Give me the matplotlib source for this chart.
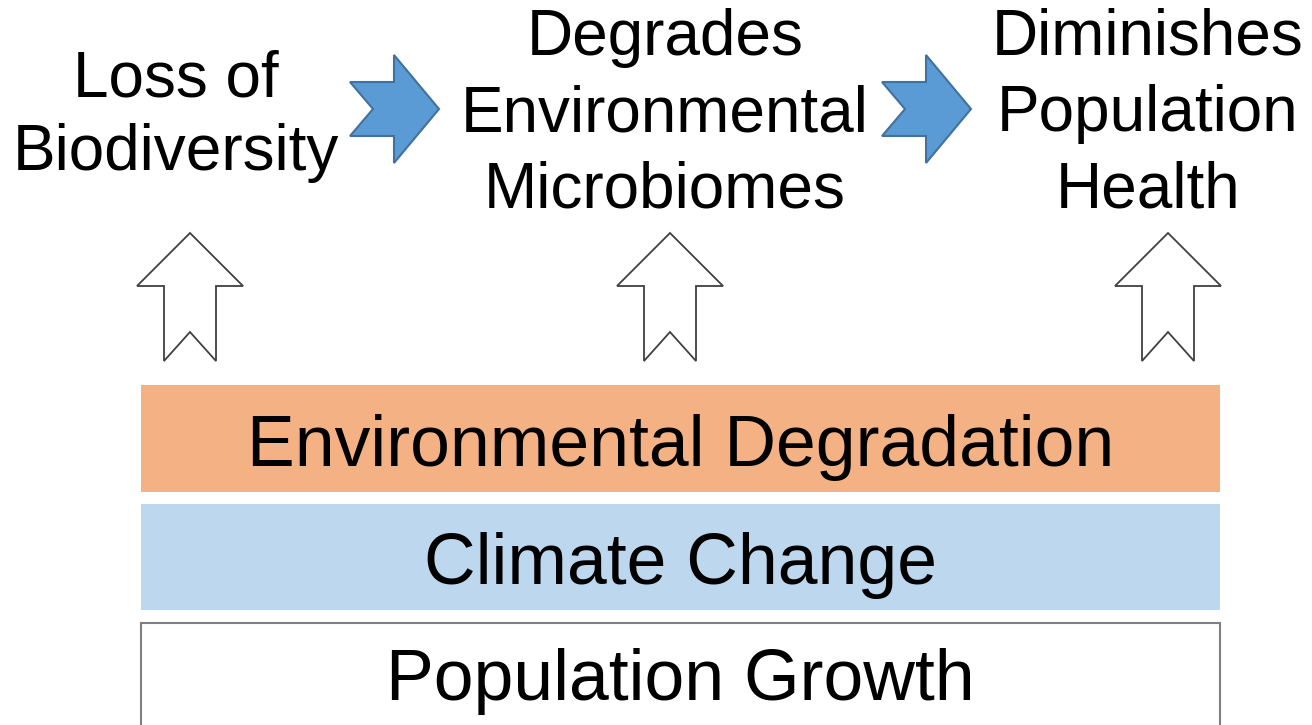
"""Diagram: population growth / climate change / environmental degradation
driving biodiversity loss -> microbiome degradation -> population health."""
import matplotlib

matplotlib.use("Agg")
import matplotlib.pyplot as plt
from matplotlib.patches import Polygon, Rectangle

plt.rcParams["font.family"] = ["Liberation Sans", "DejaVu Sans"]

W, H = 1312, 725

# chain of effects across the top (each line drawn on its own baseline)
STAGE_LINES = [
    ["Loss of", "Biodiversity"],
    ["Degrades", "Environmental", "Microbiomes"],
    ["Diminishes", "Population", "Health"],
]
STAGE_X = [176, 665, 1148]
STAGE_BASELINES = [[96, 170], [55, 131, 207], [54, 131, 207]]
STAGE_FONTSIZE = 46

# stacked driver bands at the bottom
BAND_LABELS = ["Environmental Degradation", "Climate Change", "Population Growth"]
BAND_FACE = ["#F4B183", "#BDD7EE", "#FFFFFF"]
BAND_EDGE = ["none", "none", "#7F7F7F"]
BAND_TOP = [385, 504, 623]
BAND_BOTTOM = [492, 610, 740]
BAND_BASELINE = [466, 584, 700]
BAND_FONTSIZE = 51.5
BAND_LEFT, BAND_RIGHT = 141, 1220

# arrows
RIGHT_ARROW_X = [350, 882]
UP_ARROW_X = [190, 670, 1168]


def right_arrow(x0, ytop, w, h, shaft_h, head_len, notch):
    yc = ytop + h / 2
    s0, s1 = yc - shaft_h / 2, yc + shaft_h / 2
    xh = x0 + w - head_len
    return [
        (x0, s0), (xh, s0), (xh, ytop), (x0 + w, yc), (xh, ytop + h),
        (xh, s1), (x0, s1), (x0 + notch, yc),
    ]


def up_arrow(xc, ytop, w, h, shaft_w, head_len, notch):
    yh = ytop + head_len
    yb = ytop + h
    return [
        (xc, ytop), (xc + w / 2, yh), (xc + shaft_w / 2, yh), (xc + shaft_w / 2, yb),
        (xc, yb - notch), (xc - shaft_w / 2, yb), (xc - shaft_w / 2, yh),
        (xc - w / 2, yh),
    ]


def main():
    fig = plt.figure(figsize=(W / 100, H / 100), dpi=100)
    ax = fig.add_axes([0, 0, 1, 1])
    ax.set_xlim(0, W)
    ax.set_ylim(H, 0)
    ax.axis("off")

    for x, lines, bases in zip(STAGE_X, STAGE_LINES, STAGE_BASELINES):
        for line, yb in zip(lines, bases):
            ax.text(x, yb, line, ha="center", va="baseline",
                    fontsize=STAGE_FONTSIZE, color="black")

    for x0 in RIGHT_ARROW_X:
        pts = right_arrow(x0, 55, 89, 108, 54, 45, 23)
        ax.add_patch(Polygon(pts, closed=True, facecolor="#5B9BD5",
                             edgecolor="#41719C", linewidth=1.5, joinstyle="miter"))

    for xc in UP_ARROW_X:
        pts = up_arrow(xc, 233, 106, 128, 52, 53, 29)
        ax.add_patch(Polygon(pts, closed=True, facecolor="white",
                             edgecolor="#404040", linewidth=1.3, joinstyle="miter"))

    for label, face, edge, top, bottom, yb in zip(
        BAND_LABELS, BAND_FACE, BAND_EDGE, BAND_TOP, BAND_BOTTOM, BAND_BASELINE
    ):
        ax.add_patch(Rectangle((BAND_LEFT, top), BAND_RIGHT - BAND_LEFT, bottom - top,
                               facecolor=face, edgecolor=edge, linewidth=1.5))
        ax.text((BAND_LEFT + BAND_RIGHT) / 2, yb, label, ha="center", va="baseline",
                fontsize=BAND_FONTSIZE, color="black")

    fig.savefig("out.png", dpi=100)
    plt.close(fig)


if __name__ == "__main__":
    main()
